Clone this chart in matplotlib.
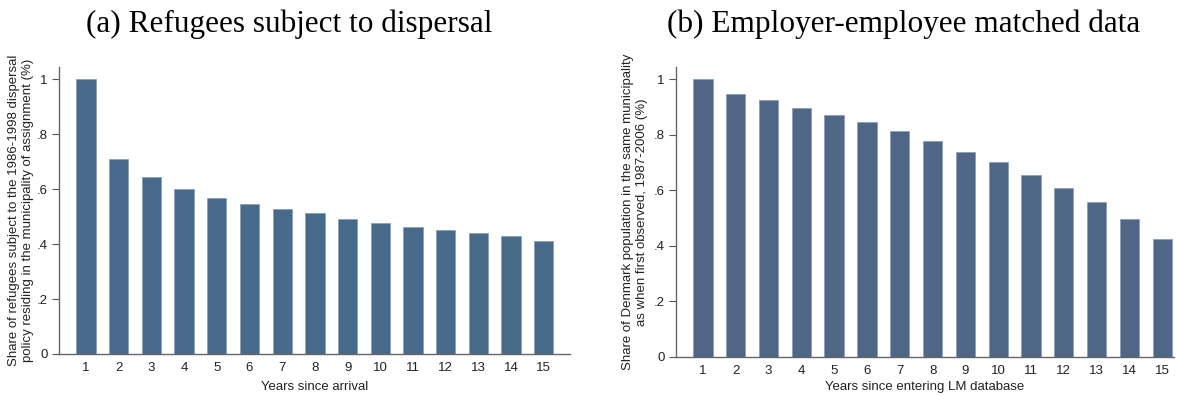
import matplotlib.pyplot as plt

years = list(range(1, 16))

# share still in the municipality of assignment (dispersal refugees)
refugees_share = [1.0, 0.711, 0.645, 0.599, 0.569, 0.545, 0.527, 0.512,
                  0.492, 0.476, 0.464, 0.453, 0.442, 0.430, 0.413]

# share of the Danish population still in the first observed municipality
population_share = [1.0, 0.948, 0.924, 0.897, 0.870, 0.845, 0.813, 0.777,
                    0.739, 0.701, 0.655, 0.610, 0.559, 0.496, 0.424]

yticks = [0, 0.2, 0.4, 0.6, 0.8, 1.0]
ytick_labels = ['0', '.2', '.4', '.6', '.8', '1']

plt.rcParams['font.family'] = ['Liberation Sans', 'DejaVu Sans']

fig = plt.figure(figsize=(11.86, 3.96), dpi=100)
ax_a = fig.add_axes([0.0497, 0.1061, 0.4309, 0.7247])
ax_b = fig.add_axes([0.570, 0.0985, 0.4199, 0.733])

panels = [
    (ax_a, refugees_share, '#476a8b', (0.175, 15.8),
     'Share of refugees subject to the 1986-1998 dispersal\n'
     'policy residing in the municipality of assignment (%)',
     'Years since arrival', '(a) Refugees subject to dispersal', 0.2437, 5, 2),
    (ax_b, population_share, '#4f6686', (0.18, 15.36),
     'Share of Denmark population in the same municipality\n'
     'as when first observed, 1987-2006 (%)',
     'Years since entering LM database', '(b) Employer-employee matched data',
     0.7622, 3, 4),
]

for ax, vals, color, xlim, ylabel, xlabel, title, title_x, xpad, ypad in panels:
    ax.bar(years, vals, width=0.59, color=color, edgecolor='#8aa0b8',
           linewidth=0.6, zorder=2)
    ax.set_xlim(*xlim)
    ax.set_ylim(0, 1.045)
    ax.set_xticks(years)
    ax.set_xticklabels([str(y) for y in years])
    ax.set_yticks(yticks)
    ax.set_yticklabels(ytick_labels)
    ax.tick_params(axis='x', length=0, pad=6, labelsize=9.5, colors='#222222')
    ax.tick_params(axis='y', length=5, width=0.8, pad=3, labelsize=9.5,
                   colors='#222222', color='#555555')
    for side in ('top', 'right'):
        ax.spines[side].set_visible(False)
    for side in ('left', 'bottom'):
        ax.spines[side].set_color('#666666')
        ax.spines[side].set_linewidth(1.0)
    ax.set_ylabel(ylabel, fontsize=9.5, color='#222222', labelpad=ypad,
                  linespacing=1.25)
    ax.set_xlabel(xlabel, fontsize=9.5, color='#222222', labelpad=xpad)
    fig.text(title_x, 1 - 24 / 396, title, fontsize=22.5,
             family='Liberation Serif', ha='center', va='center')

fig.savefig('out.png', dpi=100)
